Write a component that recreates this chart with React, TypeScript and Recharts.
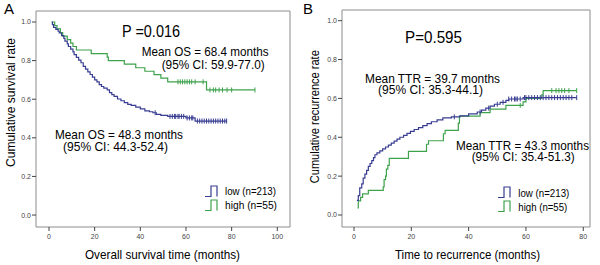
import { ComposedChart, Line, ReferenceArea, Scatter, XAxis, YAxis } from 'recharts';

const BLUE = '#383d92';
const GREEN = '#3ea24c';
const FRAME = '#8c8c8c';
const TICK = '#444';
const FONT = 'Arial, "Liberation Sans", sans-serif';

// ---- datos: [mes, proporción] ----
const lowOS: [number, number][] = [
  [1.2, 1.0], [1.5, 0.986], [2, 0.972], [3, 0.962], [4, 0.952], [4.5, 0.943], [5.5, 0.929],
  [6.5, 0.915], [7, 0.901], [8, 0.887], [8.5, 0.873], [9.5, 0.859], [10.5, 0.845], [11, 0.831],
  [12, 0.817], [13, 0.803], [14, 0.789], [15, 0.77], [16, 0.756], [17, 0.742], [18, 0.728],
  [19, 0.714], [20, 0.7], [21, 0.69], [22, 0.676], [23, 0.666], [24, 0.657], [25.5, 0.648],
  [26.5, 0.634], [27.5, 0.624], [28.5, 0.615], [30, 0.601], [31.5, 0.592], [33, 0.582],
  [34.5, 0.573], [36, 0.568], [38, 0.559], [40, 0.55], [42, 0.54], [44, 0.535], [45.5, 0.53],
  [47, 0.521], [49, 0.516], [52, 0.511], [60, 0.503], [64, 0.487], [77.8, 0.487],
];
const lowOSCensor = [
  46.5, 53, 54, 55, 55.5, 56.5, 57, 58, 59, 60.5, 61.5, 62.5, 63, 65, 66, 67, 68, 69, 70, 71,
  72, 73, 74, 75, 76, 77, 77.8,
];
const highOS: [number, number][] = [
  [1.2, 1.0], [2.5, 0.982], [3.5, 0.964], [5, 0.945], [6, 0.927], [8, 0.909], [9.5, 0.891],
  [10.5, 0.873], [12, 0.855], [18.5, 0.836], [25.5, 0.818], [26, 0.8], [33, 0.782], [38, 0.763],
  [42, 0.745], [46, 0.727], [49, 0.709], [52, 0.69], [69, 0.648], [90.2, 0.648],
];
const highOSCensor = [56.5, 57.5, 58.5, 59.5, 60.5, 61.5, 62.5, 64, 67.5, 70.5, 72, 73, 74.5, 76, 78, 80, 90.2];

const lowTTR: [number, number][] = [
  [1, 0.075], [1.5, 0.1], [2, 0.14], [2.7, 0.16], [3.2, 0.19], [3.8, 0.21], [4.4, 0.23], [5, 0.25],
  [5.6, 0.265], [6.2, 0.28], [6.8, 0.295], [7.3, 0.31], [8, 0.32], [9, 0.33], [10, 0.34],
  [11, 0.35], [12, 0.36], [13, 0.37], [14, 0.38], [15, 0.39], [16, 0.4], [17.3, 0.41],
  [18.5, 0.42], [19.7, 0.43], [21, 0.44], [22.5, 0.45], [24, 0.46], [25.5, 0.47], [27, 0.48],
  [29, 0.49], [31, 0.5], [34, 0.505], [37, 0.51], [40, 0.52], [43, 0.53], [44.5, 0.54],
  [46, 0.55], [47.5, 0.56], [49, 0.57], [51, 0.58], [53, 0.59], [54, 0.597], [59, 0.604],
  [77.7, 0.604],
];
const lowTTRCensor = [
  35, 44, 47, 50, 52, 54, 55, 56, 56.5, 57, 58, 59.5, 60, 61, 62, 63, 64, 65, 66, 67, 68, 69, 70,
  71, 72, 73, 74, 75, 76, 77.7,
];
const highTTR: [number, number][] = [
  [1.2, 0.036], [1.5, 0.073], [2.3, 0.091], [3, 0.109], [5, 0.127], [10.2, 0.145], [10.5, 0.182],
  [11, 0.2], [11.3, 0.236], [11.8, 0.255], [12.3, 0.291], [19, 0.327], [25.3, 0.364], [26, 0.382],
  [31.2, 0.418], [31.8, 0.436], [36.4, 0.473], [36.8, 0.509], [44, 0.527], [47.5, 0.545],
  [53, 0.564], [59, 0.582], [60, 0.6], [65.5, 0.618], [66, 0.64], [77.7, 0.64],
];
const highTTRCensor = [58, 69, 70.5, 71.5, 72.5, 73.5, 75, 77.7];

const xTicksOS = [0, 20, 40, 60, 80, 100];
const xTicksTTR = [0, 20, 40, 60, 80];
const yTicks = [0, 0.2, 0.4, 0.6, 0.8, 1.0];

const toRows = (pts: [number, number][]) => pts.map(([t, s]) => ({ t, s }));
const valueAt = (pts: [number, number][], t: number) => {
  let v = pts[0][1];
  for (const [x, s] of pts) if (x <= t) v = s;
  return v;
};
const censorRows = (pts: [number, number][], times: number[]) =>
  times.map((t) => ({ t, s: valueAt(pts, t) }));

const censorMark = (color: string) => (p: any) => (
  <line x1={p.cx} x2={p.cx} y1={p.cy - 2.5} y2={p.cy + 2.5} stroke={color} strokeWidth={1} />
);

function KmPanel({
  low,
  lowCensor,
  high,
  highCensor,
  xDomain,
  yDomain,
  xTicks,
  yWidth,
  top,
}: {
  low: [number, number][];
  lowCensor: number[];
  high: [number, number][];
  highCensor: number[];
  xDomain: [number, number];
  yDomain: [number, number];
  xTicks: number[];
  yWidth: number;
  top: number;
}) {
  const tickStyle = { fontSize: 7, fill: TICK, fontFamily: FONT };
  return (
    <ComposedChart width={300} height={265} margin={{ top, right: 10, left: 0, bottom: 0 }}>
      <XAxis
        type="number"
        dataKey="t"
        domain={xDomain}
        ticks={xTicks}
        allowDataOverflow
        height={38}
        axisLine={false}
        tickLine={{ stroke: TICK }}
        tickSize={4}
        tickMargin={3}
        tick={tickStyle}
      />
      <YAxis
        type="number"
        domain={yDomain}
        ticks={yTicks}
        allowDataOverflow
        width={yWidth}
        axisLine={false}
        tickLine={{ stroke: TICK }}
        tickSize={4}
        tickMargin={1}
        tick={tickStyle}
        tickFormatter={(v) => Number(v).toFixed(1)}
      />
      <ReferenceArea
        x1={xDomain[0]}
        x2={xDomain[1]}
        y1={yDomain[0]}
        y2={yDomain[1]}
        fill="none"
        stroke={FRAME}
        strokeWidth={1}
      />
      <Line data={toRows(high)} dataKey="s" type="stepAfter" stroke={GREEN} strokeWidth={1.2} dot={false} isAnimationActive={false} />
      <Line data={toRows(low)} dataKey="s" type="stepAfter" stroke={BLUE} strokeWidth={1.2} dot={false} isAnimationActive={false} />
      <Scatter data={censorRows(high, highCensor)} dataKey="s" shape={censorMark(GREEN)} isAnimationActive={false} />
      <Scatter data={censorRows(low, lowCensor)} dataKey="s" shape={censorMark(BLUE)} isAnimationActive={false} />
    </ComposedChart>
  );
}

function T({ x, y, size, len, children, anchor = 'start', rotate }: any) {
  return (
    <text
      x={x}
      y={y}
      fontSize={size}
      fontFamily={FONT}
      fill="#000"
      textAnchor={anchor}
      textLength={len}
      lengthAdjust="spacingAndGlyphs"
      transform={rotate ? `rotate(-90 ${rotate[0]} ${rotate[1]})` : undefined}
    >
      {children}
    </text>
  );
}

function LegendStep({ x, y, color }: { x: number; y: number; color: string }) {
  // icono escalón: tramo bajo, sube, tramo alto, baja
  return <path d={`M${x},${y + 10.5} H${x + 6} V${y} H${x + 12} V${y + 10.5}`} fill="none" stroke={color} strokeWidth={1.2} />;
}

export default function App() {
  return (
    <div style={{ position: 'relative', width: 600, height: 265, background: '#fff' }}>
      <style>{'body{margin:0}'}</style>
      <div style={{ position: 'absolute', left: 0, top: 0 }}>
        <KmPanel
          low={lowOS}
          lowCensor={lowOSCensor}
          high={highOS}
          highCensor={highOSCensor}
          xDomain={[-5.69, 105.56]}
          yDomain={[-0.062, 1.057]}
          xTicks={xTicksOS}
          yWidth={36}
          top={11}
        />
      </div>
      <div style={{ position: 'absolute', left: 300, top: 0 }}>
        <KmPanel
          low={lowTTR}
          lowCensor={lowTTRCensor}
          high={highTTR}
          highCensor={highTTRCensor}
          xDomain={[-4.19, 82.35]}
          yDomain={[-0.0618, 1.055]}
          xTicks={xTicksTTR}
          yWidth={42}
          top={10}
        />
      </div>
      <svg width={600} height={265} style={{ position: 'absolute', left: 0, top: 0, pointerEvents: 'none' }}>
        {/* panel A */}
        <T x={4} y={14} size={15}>A</T>
        <T x={122} y={36.5} size={16} len={58}>P =0.016</T>
        <T x={141.7} y={56} size={13} len={127}>Mean OS = 68.4 months</T>
        <T x={161.7} y={69} size={13} len={103}>(95% CI: 59.9-77.0)</T>
        <T x={55} y={139} size={13} len={128}>Mean OS = 48.3 months</T>
        <T x={63} y={151} size={13} len={105}>(95% CI: 44.3-52.4)</T>
        <LegendStep x={205} y={186} color={BLUE} />
        <LegendStep x={205} y={200} color={GREEN} />
        <T x={225} y={195} size={11} len={51}>low (n=213)</T>
        <T x={225} y={209} size={11} len={52}>high (n=55)</T>
        <T x={162.5} y={259} size={13.5} len={155} anchor="middle">Overall survival time (months)</T>
        <T x={10} y={107} size={13} len={129} anchor="middle" rotate={[10, 102.5]}>
          Cumulative survival rate
        </T>

        {/* panel B */}
        <T x={303} y={14} size={15}>B</T>
        <T x={405} y={43} size={16} len={57}>P=0.595</T>
        <T x={365} y={82.5} size={13} len={135}>Mean TTR = 39.7 months</T>
        <T x={378} y={94} size={13} len={105}>(95% CI: 35.3-44.1)</T>
        <T x={456} y={149.5} size={13} len={133}>Mean TTR = 43.3 months</T>
        <T x={471.7} y={161} size={13} len={103}>(95% CI: 35.4-51.3)</T>
        <LegendStep x={498} y={187} color={BLUE} />
        <LegendStep x={498} y={201} color={GREEN} />
        <T x={518.3} y={196.5} size={11} len={51}>low (n=213)</T>
        <T x={518.3} y={210.5} size={11} len={49}>high (n=55)</T>
        <T x={467.5} y={259} size={13.5} len={145} anchor="middle">Time to recurrence (months)</T>
        <T x={315} y={121.2} size={13} len={133} anchor="middle" rotate={[315, 116.7]}>
          Cumulative recurrence rate
        </T>
      </svg>
    </div>
  );
}
